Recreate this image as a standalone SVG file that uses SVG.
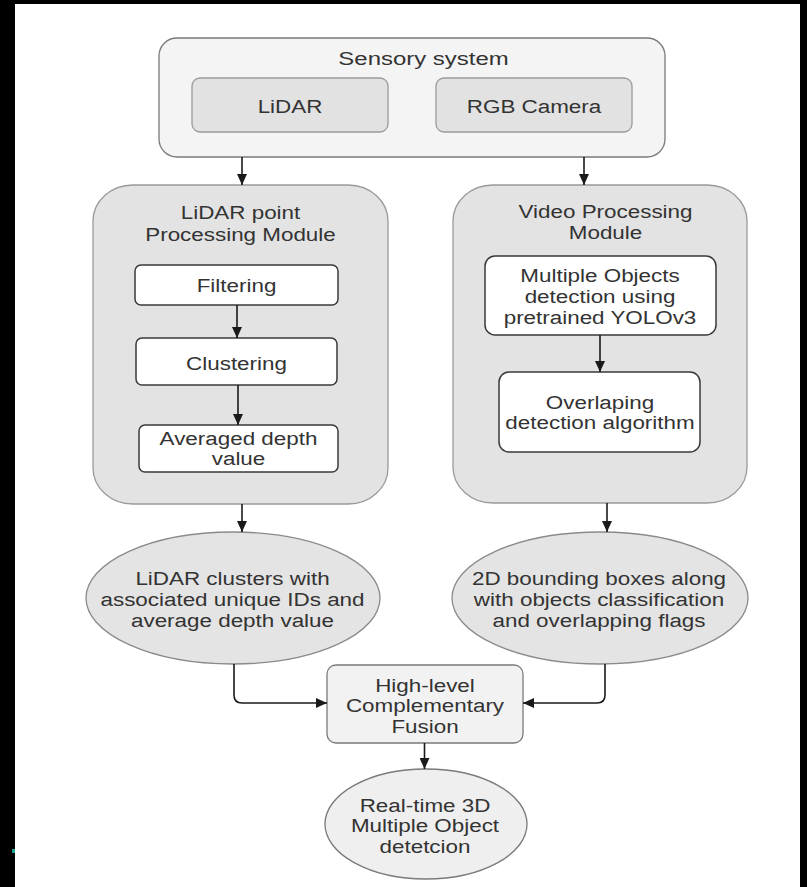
<svg xmlns="http://www.w3.org/2000/svg" width="807" height="887" viewBox="0 0 807 887">
  <defs>
    <marker id="arrow" markerUnits="userSpaceOnUse" markerWidth="11" markerHeight="10" viewBox="0 0 11 10" refX="11" refY="5" orient="auto">
      <path d="M0,0 L11,5 L0,10 z" fill="#1a1a1a"/>
    </marker>
    <style>
      .t { font-family: "Liberation Sans", Arial, sans-serif; font-size: 19px; fill: #333; text-anchor: middle; }
      .outer { fill: #f4f4f4; stroke: #7a7a7a; stroke-width: 1.3; }
      .sensor { fill: #e2e2e2; stroke: #9a9a9a; stroke-width: 1.3; }
      .module { fill: #e3e3e3; stroke: #9a9a9a; stroke-width: 1.3; }
      .step { fill: #ffffff; stroke: #3a3a3a; stroke-width: 1.5; }
      .result { fill: #e4e4e4; stroke: #8a8a8a; stroke-width: 1.3; }
      .fusion { fill: #f2f2f2; stroke: #7a7a7a; stroke-width: 1.3; }
      .final { fill: #efefef; stroke: #7a7a7a; stroke-width: 1.3; }
      .edge { fill: none; stroke: #1a1a1a; stroke-width: 1.6; marker-end: url(#arrow); }
    </style>
  </defs>

  <!-- page frame -->
  <rect x="0" y="0" width="807" height="887" fill="#000"/>
  <rect x="15" y="4" width="785" height="883" fill="#fff"/>
  <rect x="12" y="849" width="3" height="4" fill="#1aa58f"/>

  <!-- sensory system -->
  <g id="sensory-system">
    <rect class="outer" x="159" y="38" width="506" height="119" rx="18" ry="18"/>
    <text class="t" transform="translate(423.5,65) scale(1.26,1)">Sensory system</text>
  </g>
  <g id="lidar-sensor">
    <rect class="sensor" x="192" y="78" width="196" height="54" rx="8" ry="8"/>
    <text class="t" transform="translate(290,112.5) scale(1.18,1)">LiDAR</text>
  </g>
  <g id="rgb-camera">
    <rect class="sensor" x="436" y="78" width="196" height="54" rx="8" ry="8"/>
    <text class="t" transform="translate(534,112.5) scale(1.18,1)">RGB Camera</text>
  </g>

  <!-- LiDAR processing module -->
  <g id="lidar-module">
    <rect class="module" x="93" y="185" width="295" height="319" rx="40" ry="36"/>
    <text class="t" transform="translate(240.5,219) scale(1.18,1)"><tspan x="0">LiDAR point</tspan><tspan x="0" dy="22">Processing Module</tspan></text>
  </g>
  <g id="filtering">
    <rect class="step" x="135" y="265" width="203" height="40" rx="6" ry="6"/>
    <text class="t" transform="translate(236.5,292) scale(1.18,1)">Filtering</text>
  </g>
  <g id="clustering">
    <rect class="step" x="136" y="338" width="201" height="47" rx="6" ry="6"/>
    <text class="t" transform="translate(236.5,370) scale(1.18,1)">Clustering</text>
  </g>
  <g id="averaged-depth">
    <rect class="step" x="139" y="425" width="199" height="47" rx="6" ry="6"/>
    <text class="t" transform="translate(238.5,445) scale(1.18,1)"><tspan x="0">Averaged depth</tspan><tspan x="0" dy="20">value</tspan></text>
  </g>

  <!-- video processing module -->
  <g id="video-module">
    <rect class="module" x="453" y="185" width="294" height="318" rx="40" ry="36"/>
    <text class="t" transform="translate(605.5,218) scale(1.18,1)"><tspan x="0">Video Processing</tspan><tspan x="0" dy="21">Module</tspan></text>
  </g>
  <g id="yolo-detection">
    <rect class="step" x="485" y="256" width="231" height="79" rx="10" ry="10"/>
    <text class="t" transform="translate(600,282) scale(1.18,1)"><tspan x="0">Multiple Objects</tspan><tspan x="0" dy="21">detection using</tspan><tspan x="0" dy="21">pretrained YOLOv3</tspan></text>
  </g>
  <g id="overlap-detection">
    <rect class="step" x="499" y="372" width="201" height="80" rx="10" ry="10"/>
    <text class="t" transform="translate(600,409) scale(1.18,1)"><tspan x="0">Overlaping</tspan><tspan x="0" dy="20">detection algorithm</tspan></text>
  </g>

  <!-- intermediate results -->
  <g id="lidar-clusters">
    <ellipse class="result" cx="233" cy="598" rx="147" ry="66"/>
    <text class="t" transform="translate(232.5,585) scale(1.18,1)"><tspan x="0">LiDAR clusters with</tspan><tspan x="0" dy="21">associated unique IDs and</tspan><tspan x="0" dy="21">average depth value</tspan></text>
  </g>
  <g id="bounding-boxes">
    <ellipse class="result" cx="600" cy="598" rx="148" ry="66"/>
    <text class="t" transform="translate(599,585) scale(1.18,1)"><tspan x="0">2D bounding boxes along</tspan><tspan x="0" dy="21">with objects classification</tspan><tspan x="0" dy="21">and overlapping flags</tspan></text>
  </g>

  <!-- fusion and output -->
  <g id="fusion">
    <rect class="fusion" x="327" y="665" width="196" height="78" rx="9" ry="9"/>
    <text class="t" transform="translate(425,692) scale(1.18,1)"><tspan x="0">High-level</tspan><tspan x="0" dy="20.5">Complementary</tspan><tspan x="0" dy="20.5">Fusion</tspan></text>
  </g>
  <g id="detection-output">
    <ellipse class="final" cx="426" cy="824" rx="101" ry="55"/>
    <text class="t" transform="translate(425,812) scale(1.18,1)"><tspan x="0">Real-time 3D</tspan><tspan x="0" dy="20.5">Multiple Object</tspan><tspan x="0" dy="20.5">detetcion</tspan></text>
  </g>

  <!-- connectors -->
  <g id="connectors">
    <path class="edge" d="M242,157 V185"/>
    <path class="edge" d="M584,157 V185"/>
    <path class="edge" d="M237,305 V338"/>
    <path class="edge" d="M238,385 V425"/>
    <path class="edge" d="M600,335 V372"/>
    <path class="edge" d="M242,504 V532"/>
    <path class="edge" d="M607,503 V532"/>
    <path class="edge" d="M234,664 V695 Q234,703 242,703 H327"/>
    <path class="edge" d="M605,664 V695 Q605,703 597,703 H523"/>
    <path class="edge" d="M424.5,743 V769"/>
  </g>
</svg>
